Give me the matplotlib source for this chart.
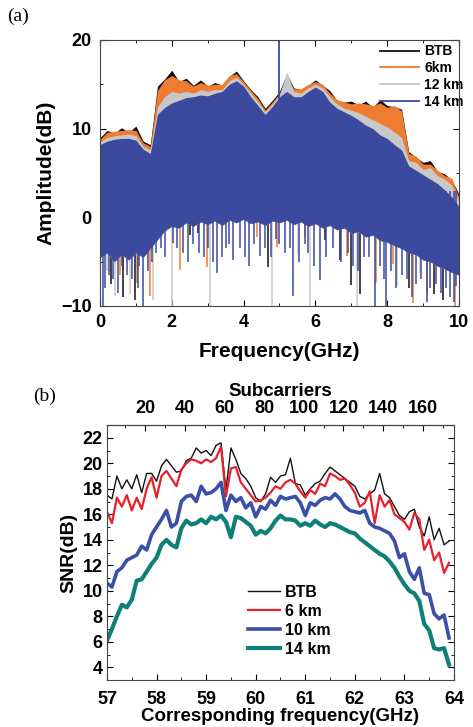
import numpy as np
import matplotlib
matplotlib.use('Agg')
import matplotlib.pyplot as plt
from matplotlib.ticker import MultipleLocator

plt.rcParams['font.family'] = ['Liberation Sans', 'DejaVu Sans']
plt.rcParams['font.weight'] = 'bold'

# ---------------- (a) spectrum envelopes ----------------
freq_a = [0.0, 0.2, 0.4, 0.6, 0.8, 1.0, 1.2, 1.4, 1.6, 1.8, 2.0, 2.2, 2.4, 2.6, 2.8,
          3.0, 3.2, 3.4, 3.6, 3.8, 4.0, 4.2, 4.4, 4.6, 4.8, 5.0, 5.2, 5.4, 5.6, 5.8,
          6.0, 6.2, 6.4, 6.6, 6.8, 7.0, 7.2, 7.4, 7.6, 7.8, 8.0, 8.2, 8.4, 8.6, 8.8,
          9.0, 9.2, 9.4, 9.6, 9.8, 10.0]
top_btb = [9.0, 9.8, 9.5, 10.1, 9.6, 10.3, 8.6, 8.2, 14.8, 15.6, 16.6, 15.3, 15.7, 14.9, 15.5,
           14.8, 15.2, 14.9, 15.9, 16.5, 15.4, 14.4, 13.6, 12.3, 13.2, 14.2, 16.2, 14.6, 14.4, 14.9,
           15.5, 14.9, 14.3, 13.2, 13.0, 13.1, 12.7, 13.1, 12.4, 13.3, 12.6, 12.5, 12.2, 7.4, 6.8,
           6.2, 6.4, 5.2, 4.9, 4.2, 2.6]
top_6km = [8.8, 9.6, 9.7, 9.8, 9.9, 9.8, 8.4, 8.0, 14.3, 15.5, 16.0, 15.5, 15.4, 14.8, 15.2,
           14.9, 15.0, 15.0, 16.0, 16.2, 15.3, 14.3, 13.4, 12.1, 13.0, 14.0, 15.6, 14.5, 14.5, 15.0,
           15.3, 15.0, 14.0, 13.3, 13.0, 12.8, 12.9, 12.8, 12.6, 12.9, 12.4, 12.6, 12.0, 7.2, 6.9,
           6.0, 6.0, 5.3, 4.7, 4.4, 2.2]
top_12km = [8.5, 9.0, 9.2, 9.3, 9.4, 9.2, 8.0, 7.6, 12.4, 13.6, 14.2, 14.0, 14.2, 14.0, 14.4,
            14.2, 14.4, 14.4, 15.4, 15.8, 15.0, 14.0, 13.0, 11.9, 12.8, 13.8, 16.4, 14.2, 14.0, 14.6,
            15.0, 14.6, 13.6, 12.8, 12.3, 12.1, 11.8, 11.4, 11.0, 10.6, 10.2, 9.6, 9.0, 6.4, 6.2,
            5.4, 5.6, 4.7, 4.3, 3.6, 1.8]
top_14km = [8.2, 8.6, 8.8, 8.9, 8.9, 8.7, 7.7, 7.2, 11.6, 12.4, 12.9, 13.2, 13.5, 13.6, 13.8,
            13.7, 14.0, 14.2, 15.0, 15.4, 14.8, 13.6, 12.6, 11.6, 12.5, 13.6, 14.2, 13.6, 13.6, 14.2,
            14.7, 14.2, 13.0, 12.3, 11.9, 11.5, 11.0, 10.4, 10.0, 9.3, 8.9, 8.2, 7.6, 5.8, 5.3,
            4.8, 4.3, 3.8, 3.1, 2.3, 1.2]
floor_a = [-4.5, -4.0, -5.0, -4.2, -4.8, -4.0, -4.5, -3.5, -2.5, -1.5, -1.0, -1.2, -0.6, -1.0, -0.5,
           -0.8, -0.4, -0.9, -0.3, -0.6, -0.2, -0.7, -0.5, -0.9, -0.4, -0.6, -0.3, -0.8, -0.5, -1.0,
           -0.7, -1.2, -0.9, -1.4, -1.2, -1.8, -1.6, -2.2, -2.0, -2.6, -2.8, -3.2, -3.5, -4.0, -4.2,
           -4.8, -5.0, -5.5, -5.8, -6.2, -6.5]

# deep notches (frequency GHz, lowest dB) seen below the dense band
dips_btb = [(0.3, -7.5), (0.65, -9.0), (0.97, -9.3), (2.5, -2.0), (2.74, -1.8), (3.3, 3.1),
            (4.69, -5.6), (5.6, 0.45), (6.27, -2.6), (6.69, -4.8), (7.0, -7.6), (7.24, -8.6),
            (7.9, -1.8), (8.6, -8.0), (9.29, -8.6), (9.56, -9.3)]
dips_6km = [(0.55, -6.5), (1.02, -7.4), (1.39, -8.9), (1.86, -0.3), (2.14, 3.5), (2.23, -5.9),
            (2.97, -5.6), (4.36, -2.2), (4.87, 4.2), (4.92, -3.3), (5.2, 2.0), (5.71, -2.2),
            (6.87, -4.4), (7.7, -7.4), (8.17, -5.3), (8.73, -9.7), (9.1, -8.6), (9.8, 3.1), (9.9, -10)]
dips_12km = [(0.2, -6.0), (0.42, -8.9), (0.84, -8.6), (1.49, -9.3), (2.0, -10), (2.79, 3.5),
             (3.06, -10), (3.85, 5.7), (4.18, 2.0), (4.78, -10), (5.52, -4.1), (5.85, -10),
             (6.41, 0.1), (7.15, -10), (7.9, 3.5), (8.26, -7.8), (8.91, -6.3)]
dips_14km = [(0.09, -10), (0.15, -8.0), (0.25, -6.5), (0.35, -7.0), (0.5, -8.5), (0.6, -5.5),
             (0.75, -6.5), (0.9, -7.0), (1.05, -8.0), (1.1, -5.5), (1.2, -10), (1.35, -6.0),
             (1.45, -5.0), (1.55, -4.0), (1.7, -3.5), (1.8, -4.5), (2.04, -2.9), (2.15, -3.5),
             (2.3, -4.0), (2.45, -5.0), (2.6, -3.0), (2.75, -4.0), (2.9, -4.5), (3.0, -3.5),
             (3.15, -5.0), (3.25, -6.3), (3.4, -4.5), (3.5, -3.5), (3.6, -3.0), (3.71, -4.8),
             (3.9, -3.5), (4.05, -4.5), (4.15, -5.5), (4.3, -3.0), (4.46, -4.4), (4.6, -3.5),
             (4.75, -4.5), (4.9, -2.5), (5.0, -3.0), (5.15, -4.0), (5.3, -3.5), (5.39, -8.9),
             (5.55, -5.0), (5.7, -3.0), (5.8, -4.0), (5.95, -5.5), (6.13, -7.1), (6.3, -4.5),
             (6.5, -3.5), (6.7, -5.0), (6.9, -4.0), (7.06, -5.5), (7.2, -6.0), (7.35, -4.5),
             (7.5, -4.5), (7.66, -10), (7.8, -5.5), (7.9, -7.0), (7.98, -10), (8.1, -6.0),
             (8.25, -8.0), (8.4, -6.5), (8.55, -7.0), (8.7, -9.0), (8.8, -7.5), (8.95, -7.0),
             (9.1, -9.5), (9.2, -8.0), (9.35, -7.5), (9.5, -8.5), (9.65, -8.0), (9.75, -9.0),
             (9.85, -9.5), (9.93, -7.8)]
tones_14km = [0.0, 5.0]   # the two tall lines reaching 20 dB

# ---------------- (b) SNR per subcarrier ----------------
freq_b = [round(57.0 + 0.1 * i, 1) for i in range(70)]
snr_btb = [17.5, 17.2, 19.0, 18.0, 18.7, 18.0, 19.1, 17.7, 19.2, 19.2,
           18.6, 19.8, 20.3, 19.8, 19.3, 19.4, 20.2, 20.4, 21.2, 20.8,
           21.0, 20.6, 21.4, 21.6, 17.9, 21.2, 20.3, 19.2, 18.8, 18.2,
           17.3, 17.0, 17.6, 18.9, 18.5, 19.0, 19.1, 20.4, 18.4, 18.3,
           17.5, 18.0, 18.4, 18.6, 19.2, 19.7, 19.4, 19.1, 18.8, 18.5,
           18.2, 17.4, 17.2, 17.6, 17.9, 19.2, 17.6, 17.3, 16.6, 15.9,
           15.6, 16.2, 16.4, 15.0, 14.3, 15.8, 14.0, 14.9, 13.6, 13.9]
snr_6km = [16.2, 15.3, 17.3, 16.6, 17.5, 16.3, 17.3, 16.4, 18.0, 18.9,
           17.3, 19.0, 19.4, 18.8, 18.2, 19.5, 20.0, 20.3, 20.2, 20.0,
           20.3, 20.1, 20.4, 21.3, 17.4, 19.6, 19.7, 18.5, 18.0, 17.5,
           17.0, 17.1, 17.3, 17.7, 18.2, 18.0, 18.5, 18.7, 18.4, 17.8,
           17.3, 17.9, 17.6, 18.4, 18.2, 19.2, 19.0, 18.7, 18.8, 18.3,
           17.7, 16.6, 16.9, 17.8, 15.3, 17.5, 16.6, 17.1, 16.0, 15.7,
           15.4, 14.8, 16.1, 15.6, 13.2, 14.0, 12.4, 13.0, 11.4, 12.2]
snr_10km = [10.6, 10.3, 11.5, 11.8, 12.4, 12.6, 12.8, 13.5, 13.2, 14.4,
            15.0, 15.6, 16.3, 15.0, 15.3, 17.0, 17.4, 17.5, 17.0, 18.2,
            17.6, 17.7, 18.0, 18.5, 16.3, 17.5, 17.0, 17.3, 16.5, 16.9,
            15.8, 16.6, 16.4, 17.1, 16.7, 17.4, 17.2, 17.3, 17.4, 16.9,
            15.9, 16.9, 16.7, 17.1, 17.3, 17.2, 17.6, 17.2, 16.6, 16.3,
            16.2, 16.1, 16.3, 15.3, 15.0, 14.9, 14.7, 14.5, 13.9, 12.6,
            12.9, 11.5, 10.9, 11.8, 9.8, 9.7, 8.2, 7.8, 8.1, 6.3]
snr_14km = [6.1, 7.0, 8.0, 8.9, 8.7, 9.3, 10.8, 10.9, 11.5, 12.1,
            12.6, 13.6, 14.0, 13.6, 13.4, 14.9, 15.5, 15.2, 15.3, 15.6,
            15.3, 15.8, 15.6, 15.9, 15.4, 14.2, 15.8, 15.7, 15.4, 15.1,
            14.4, 14.7, 14.5, 14.9, 15.5, 15.9, 15.6, 15.6, 15.5, 15.1,
            15.3, 15.1, 15.5, 15.2, 15.0, 15.3, 15.2, 15.0, 14.8, 14.6,
            14.5, 14.1, 13.8, 13.5, 13.2, 12.9, 12.7, 12.3, 11.8, 11.1,
            10.5, 10.0, 9.8, 9.2, 7.4, 6.9, 5.5, 5.4, 5.5, 4.2]
subcarrier_ticks = [20, 40, 60, 80, 100, 120, 140, 160]

fig = plt.figure(figsize=(4.73, 7.27), dpi=100)

# ---- panel (a)
ax1 = fig.add_axes([0.2114, 0.5791, 0.759, 0.3659])
series_a = [(top_btb, dips_btb, '#111111', 'BTB'),
            (top_6km, dips_6km, '#ee7d31', '6km'),
            (top_12km, dips_12km, '#c8c8c8', '12 km'),
            (top_14km, dips_14km, '#3b4a9f', '14 km')]
z = 1
for top, dips, c, lab in series_a:
    ax1.fill_between(freq_a, floor_a, top, color=c, lw=0, zorder=z)
    df = [d[0] for d in dips]
    dv = [d[1] for d in dips]
    ax1.vlines(df, dv, 3.0, color=c, lw=1.1, zorder=z + 0.5)
    ax1.plot([], [], color=c, lw=1.3, label=lab)
    z += 1
ax1.vlines(tones_14km, 0, 20, color='#3b4a9f', lw=1.3, zorder=z)

ax1.set_xlim(0, 10)
ax1.set_ylim(-10, 20)
ax1.xaxis.set_major_locator(MultipleLocator(2))
ax1.xaxis.set_minor_locator(MultipleLocator(1))
ax1.yaxis.set_major_locator(MultipleLocator(10))
ax1.yaxis.set_minor_locator(MultipleLocator(5))
ax1.tick_params(which='both', direction='in', top=True, right=True, labelsize=13, pad=6)
ax1.tick_params(which='major', length=4)
ax1.tick_params(which='minor', length=2.5)
ax1.set_xlabel('Frequency(GHz)', fontsize=15, fontweight='bold', labelpad=8)
ax1.set_ylabel('Amplitude(dB)', fontsize=15, fontweight='bold', labelpad=4)
for s in ax1.spines.values():
    s.set_linewidth(0.8)
    s.set_color('#444444')
    s.set_zorder(10)
ax1.legend(loc='upper right', bbox_to_anchor=(1.04, 1.02), frameon=False, fontsize=10,
           handlelength=2.8, handletextpad=0.4, labelspacing=0.2, borderpad=0.2)
fig.text(0.015, 0.978, '(a)', fontsize=14, family='Liberation Serif', fontweight='normal',
         va='center')

# ---- panel (b)
ax2 = fig.add_axes([0.2262, 0.0646, 0.7336, 0.3508])
ax2.plot(freq_b, snr_btb, color='#111111', lw=1.0, label='BTB')
ax2.plot(freq_b, snr_6km, color='#e8202a', lw=1.6, label='6 km')
ax2.plot(freq_b, snr_10km, color='#3a4fa8', lw=2.6, label='10 km')
ax2.plot(freq_b, snr_14km, color='#0f8078', lw=3.0, label='14 km')
ax2.set_xlim(57, 64)
ax2.set_ylim(3, 23)
ax2.xaxis.set_major_locator(MultipleLocator(1))
ax2.xaxis.set_minor_locator(MultipleLocator(0.5))
ax2.yaxis.set_major_locator(MultipleLocator(2))
ax2.yaxis.set_minor_locator(MultipleLocator(1))
ax2.tick_params(which='both', direction='in', right=True, labelsize=13)
ax2.tick_params(axis='x', pad=8)
ax2.tick_params(axis='y', pad=3)
ax2.tick_params(which='major', length=4)
ax2.tick_params(which='minor', length=2.5)
ax2.set_xlabel('Corresponding frequency(GHz)', fontsize=13.5, fontweight='bold', labelpad=0)
ax2.set_ylabel('SNR(dB)', fontsize=14, fontweight='bold', labelpad=4)
for s in ax2.spines.values():
    s.set_linewidth(0.8)
    s.set_color('#444444')
ax2.legend(loc='upper left', bbox_to_anchor=(0.375, 0.418), frameon=False, fontsize=11.5,
           handlelength=2.0, handletextpad=0.3, labelspacing=0.25, borderpad=0.2)

sec = ax2.secondary_xaxis('top', functions=(lambda f: (f - 56.97) * 25.0,
                                            lambda n: n / 25.0 + 56.97))
sec.set_xticks(subcarrier_ticks)
sec.xaxis.set_minor_locator(MultipleLocator(10))
sec.tick_params(which='both', direction='in', labelsize=13, pad=6)
sec.tick_params(which='major', length=4)
sec.tick_params(which='minor', length=2.5)
sec.set_xlabel('Subcarriers', fontsize=13.5, fontweight='bold', labelpad=3)
fig.text(0.07, 0.455, '(b)', fontsize=14, family='Liberation Serif', fontweight='normal',
         va='center')

fig.savefig('out.png', dpi=100)
